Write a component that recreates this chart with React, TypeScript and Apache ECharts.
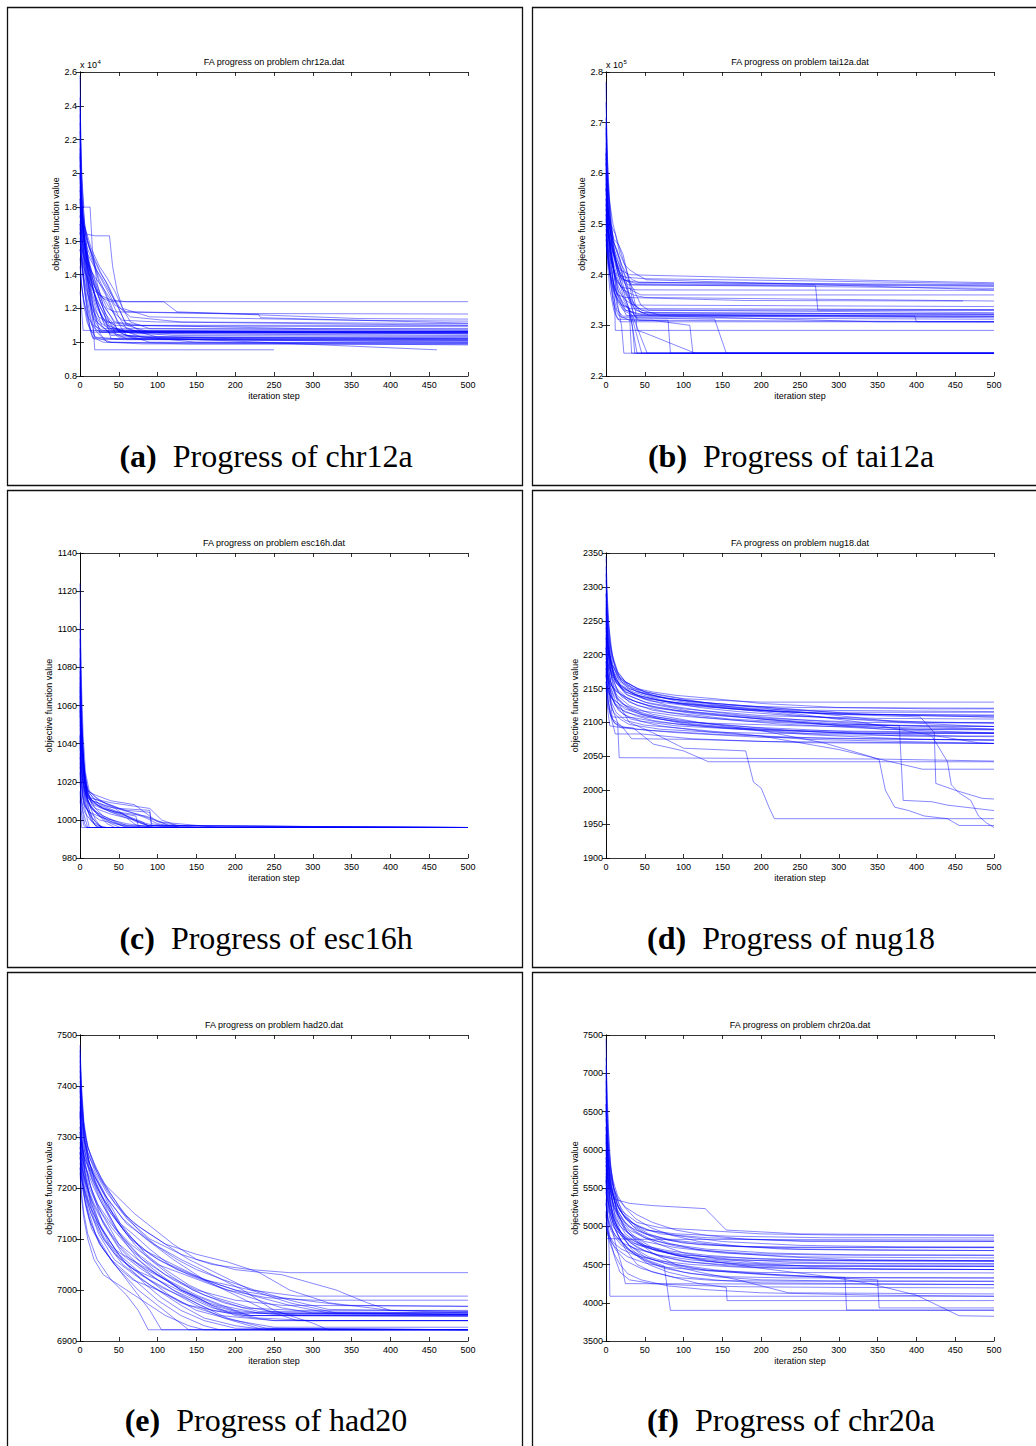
import React, { useEffect, useRef } from "react";
import * as echarts from "echarts";

// ---------------- DATA ----------------
const problems = ["chr12a", "tai12a", "esc16h", "nug18", "had20", "chr20a"];
const captionLetters = ["a", "b", "c", "d", "e", "f"];
const xMin = 0;
const xMax = 500;
const xInterval = 50;
const yMins = [0.8, 2.2, 980, 1900, 6900, 3500];
const yMaxs = [2.6, 2.8, 1140, 2350, 7500, 7500];
const yIntervals = [0.2, 0.1, 20, 50, 100, 500];
// power of ten shown above the y axis (0 = none); values of those panels are in axis units
const yExponents = [4, 5, 0, 0, 0, 0];

// every run: flat list x0,y0,x1,y1,... (iteration, objective value)
const chr12aRuns: number[][] = [
  [0, 2.58, 1, 2.2, 3, 1.9, 6, 1.7, 10, 1.5, 16, 1.35, 25, 1.28, 40, 1.25, 60, 1.24, 500, 1.24],
  [0, 2.45, 2, 2.0, 5, 1.8, 9, 1.8, 13, 1.8, 16, 1.55, 22, 1.35, 30, 1.22, 45, 1.12, 80, 1.1, 500, 1.1],
  [0, 2.3, 2, 1.95, 4, 1.7, 8, 1.5, 14, 1.3, 20, 1.12, 28, 1.06, 500, 1.06],
  [0, 2.2, 1, 1.9, 4, 1.65, 8, 1.45, 12, 1.28, 17, 1.1, 19, 0.955, 250, 0.955],
  [0, 2.1, 2, 1.8, 5, 1.6, 10, 1.4, 15, 1.2, 20, 1.07, 30, 1.02, 500, 1.02],
  [0, 2.0, 3, 1.7, 7, 1.55, 12, 1.4, 18, 1.3, 26, 1.18, 35, 1.1, 55, 1.065, 500, 1.065],
  [0, 1.95, 2, 1.75, 6, 1.6, 11, 1.45, 20, 1.25, 28, 1.15, 40, 1.08, 70, 1.05, 500, 1.05],
  [0, 1.9, 3, 1.7, 8, 1.55, 15, 1.42, 25, 1.3, 35, 1.2, 45, 1.18, 230, 1.165, 233, 1.145, 500, 1.113],
  [0, 1.85, 2, 1.6, 6, 1.4, 12, 1.25, 18, 1.14, 30, 1.08, 500, 1.08],
  [0, 1.8, 4, 1.65, 9, 1.52, 14, 1.38, 22, 1.22, 32, 1.1, 50, 1.03, 500, 1.03],
  [0, 1.75, 3, 1.6, 7, 1.48, 12, 1.35, 20, 1.3, 30, 1.26, 40, 1.24, 108, 1.24, 125, 1.18, 360, 1.14, 500, 1.137],
  [0, 1.7, 2, 1.5, 5, 1.35, 10, 1.2, 15, 1.1, 25, 1.06, 500, 1.06],
  [0, 1.65, 3, 1.5, 8, 1.38, 13, 1.25, 22, 1.12, 40, 1.05, 150, 1.0, 500, 0.996],
  [0, 1.6, 2, 1.45, 6, 1.3, 10, 1.15, 14, 1.07, 17, 1.02, 60, 1.015, 500, 1.012],
  [0, 1.55, 4, 1.4, 9, 1.3, 15, 1.2, 25, 1.12, 38, 1.08, 80, 1.065, 500, 1.063],
  [0, 1.5, 2, 1.35, 5, 1.22, 9, 1.12, 15, 1.06, 500, 1.058],
  [0, 1.4, 3, 1.3, 7, 1.2, 11, 1.1, 16, 1.03, 30, 1.0, 500, 0.984],
  [0, 1.3, 2, 1.2, 4, 1.07, 14, 1.07, 500, 1.05],
  [0, 2.05, 2, 1.85, 4, 1.7, 7, 1.55, 11, 1.45, 16, 1.38, 23, 1.3, 32, 1.25, 40, 1.19, 55, 1.13, 100, 1.12, 500, 1.1],
  [0, 1.98, 3, 1.8, 6, 1.68, 10, 1.6, 16, 1.5, 22, 1.42, 30, 1.35, 36, 1.3, 45, 1.22, 60, 1.18, 200, 1.17, 500, 1.167],
  [0, 2.25, 1, 1.9, 3, 1.72, 8, 1.64, 20, 1.63, 38, 1.63, 42, 1.45, 48, 1.3, 55, 1.2, 90, 1.15, 350, 1.13, 500, 1.125],
  [0, 1.88, 2, 1.66, 5, 1.5, 9, 1.38, 14, 1.3, 20, 1.2, 28, 1.1, 40, 1.04, 95, 1.03, 500, 1.025],
  [0, 1.72, 3, 1.55, 7, 1.42, 13, 1.3, 19, 1.18, 26, 1.05, 35, 1.0, 80, 0.99, 500, 0.99],
  [0, 2.15, 2, 1.85, 5, 1.62, 9, 1.48, 14, 1.36, 21, 1.24, 30, 1.12, 42, 1.07, 120, 1.05, 500, 1.04],
  [0, 1.78, 2, 1.62, 6, 1.5, 11, 1.33, 16, 1.22, 24, 1.15, 34, 1.12, 70, 1.1, 300, 1.08, 500, 1.077],
  [0, 1.62, 3, 1.45, 6, 1.3, 10, 1.18, 13, 1.08, 20, 1.03, 50, 1.02, 250, 1.01, 500, 1.005],
  [0, 1.45, 2, 1.34, 5, 1.24, 10, 1.15, 17, 1.1, 30, 1.07, 120, 1.04, 500, 1.035],
  [0, 2.35, 1, 2.0, 3, 1.78, 6, 1.58, 10, 1.43, 15, 1.3, 22, 1.2, 30, 1.14, 45, 1.1, 150, 1.095, 500, 1.092],
  [0, 1.92, 3, 1.76, 7, 1.6, 12, 1.46, 18, 1.34, 26, 1.24, 34, 1.16, 48, 1.08, 80, 1.03, 460, 0.955],
  [0, 1.68, 2, 1.52, 5, 1.38, 9, 1.26, 14, 1.14, 19, 1.03, 40, 1.0, 140, 0.99, 500, 0.99],
  [0, 2.0, 1, 1.8, 4, 1.58, 7, 1.42, 10, 1.28, 14, 1.18, 20, 1.1, 26, 1.06, 500, 1.06],
  [0, 1.83, 2, 1.7, 5, 1.56, 9, 1.45, 14, 1.35, 22, 1.25, 30, 1.17, 38, 1.1, 50, 1.07, 500, 1.065],
  [0, 2.12, 1, 1.88, 3, 1.7, 5, 1.6, 9, 1.5, 15, 1.4, 20, 1.32, 30, 1.2, 35, 1.1, 40, 1.02, 500, 1.02],
  [0, 1.9, 5, 1.7, 15, 1.55, 25, 1.45, 35, 1.38, 45, 1.3, 55, 1.2, 65, 1.12, 90, 1.08, 500, 1.07],
  [0, 1.75, 4, 1.62, 10, 1.52, 18, 1.45, 28, 1.38, 38, 1.3, 48, 1.22, 58, 1.12, 80, 1.06, 500, 1.06],
  [0, 1.6, 5, 1.5, 12, 1.44, 20, 1.38, 30, 1.32, 40, 1.25, 50, 1.15, 60, 1.08, 100, 1.03, 500, 1.02],
  [0, 2.0, 2, 1.8, 6, 1.65, 12, 1.56, 20, 1.48, 28, 1.4, 36, 1.34, 44, 1.26, 52, 1.2, 65, 1.15, 130, 1.12, 500, 1.11],
  [0, 1.7, 3, 1.6, 8, 1.52, 15, 1.42, 22, 1.32, 30, 1.22, 40, 1.15, 50, 1.06, 70, 1.02, 500, 1.01],
  [0, 1.85, 3, 1.72, 9, 1.6, 16, 1.5, 24, 1.38, 32, 1.3, 40, 1.22, 48, 1.12, 60, 1.04, 200, 1.02, 500, 1.015],
  [0, 1.55, 4, 1.45, 10, 1.38, 17, 1.3, 25, 1.22, 33, 1.15, 42, 1.1, 55, 1.05, 90, 1.0, 500, 0.996],
  [0, 2.4, 1, 2.1, 3, 1.85, 6, 1.7, 10, 1.6, 17, 1.5, 25, 1.42, 33, 1.36, 41, 1.28, 50, 1.2, 60, 1.1, 90, 1.06, 500, 1.06],
  [0, 1.8, 4, 1.66, 10, 1.55, 17, 1.47, 25, 1.35, 33, 1.28, 42, 1.18, 52, 1.1, 75, 1.06, 500, 1.05],
  [0, 1.65, 3, 1.55, 8, 1.46, 14, 1.38, 22, 1.3, 30, 1.2, 38, 1.12, 46, 1.05, 60, 1.02, 500, 1.0],
];

const tai12aRuns: number[][] = [
  [0, 2.78, 1, 2.68, 3, 2.58, 6, 2.5, 10, 2.44, 16, 2.4, 25, 2.395, 50, 2.392, 250, 2.388, 500, 2.382],
  [0, 2.74, 2, 2.62, 5, 2.54, 9, 2.47, 14, 2.42, 22, 2.39, 40, 2.385, 500, 2.378],
  [0, 2.71, 2, 2.6, 4, 2.52, 8, 2.45, 12, 2.38, 16, 2.33, 20, 2.3, 23, 2.245, 500, 2.245],
  [0, 2.68, 2, 2.58, 6, 2.5, 11, 2.44, 18, 2.4, 28, 2.38, 270, 2.378, 273, 2.33, 500, 2.33],
  [0, 2.66, 1, 2.55, 4, 2.48, 8, 2.41, 11, 2.35, 12, 2.29, 500, 2.29],
  [0, 2.64, 2, 2.55, 5, 2.47, 10, 2.41, 15, 2.37, 25, 2.35, 35, 2.34, 500, 2.337],
  [0, 2.62, 3, 2.53, 7, 2.46, 12, 2.42, 20, 2.38, 30, 2.33, 33, 2.245, 500, 2.245],
  [0, 2.6, 2, 2.51, 6, 2.45, 11, 2.4, 17, 2.36, 25, 2.33, 40, 2.322, 500, 2.322],
  [0, 2.58, 2, 2.5, 5, 2.44, 9, 2.39, 14, 2.34, 20, 2.315, 140, 2.312, 155, 2.245, 500, 2.245],
  [0, 2.57, 3, 2.49, 7, 2.43, 12, 2.39, 20, 2.375, 40, 2.37, 500, 2.369],
  [0, 2.55, 2, 2.47, 5, 2.41, 9, 2.36, 14, 2.33, 22, 2.318, 500, 2.318],
  [0, 2.54, 3, 2.47, 6, 2.42, 10, 2.38, 15, 2.36, 25, 2.355, 180, 2.349, 460, 2.348],
  [0, 2.52, 2, 2.45, 5, 2.4, 9, 2.35, 13, 2.32, 18, 2.307, 500, 2.307],
  [0, 2.5, 2, 2.44, 6, 2.38, 10, 2.34, 16, 2.32, 30, 2.31, 80, 2.31, 83, 2.245, 500, 2.245],
  [0, 2.49, 3, 2.43, 7, 2.39, 12, 2.36, 20, 2.34, 30, 2.333, 500, 2.331],
  [0, 2.48, 2, 2.42, 5, 2.37, 10, 2.33, 15, 2.312, 60, 2.31, 108, 2.3, 112, 2.245, 500, 2.245],
  [0, 2.46, 4, 2.41, 9, 2.37, 15, 2.35, 25, 2.33, 45, 2.322, 398, 2.318, 400, 2.307, 500, 2.307],
  [0, 2.7, 1, 2.6, 3, 2.52, 7, 2.47, 12, 2.43, 18, 2.41, 30, 2.4, 50, 2.399, 300, 2.39, 500, 2.384],
  [0, 2.63, 2, 2.54, 5, 2.49, 10, 2.44, 16, 2.41, 24, 2.39, 35, 2.38, 500, 2.373],
  [0, 2.59, 3, 2.52, 7, 2.46, 13, 2.42, 20, 2.39, 32, 2.37, 45, 2.36, 500, 2.36],
  [0, 2.56, 2, 2.49, 6, 2.44, 11, 2.4, 18, 2.38, 26, 2.36, 38, 2.33, 40, 2.29, 50, 2.285, 115, 2.245, 500, 2.245],
  [0, 2.53, 3, 2.46, 8, 2.42, 14, 2.39, 22, 2.37, 35, 2.36, 50, 2.355, 500, 2.348],
  [0, 2.51, 2, 2.45, 6, 2.4, 12, 2.37, 20, 2.35, 30, 2.33, 38, 2.32, 350, 2.307, 500, 2.307],
  [0, 2.47, 3, 2.42, 8, 2.38, 14, 2.35, 22, 2.33, 34, 2.32, 53, 2.245, 500, 2.245],
  [0, 2.61, 1, 2.53, 4, 2.47, 8, 2.43, 14, 2.4, 22, 2.39, 40, 2.382, 500, 2.377],
  [0, 2.69, 2, 2.59, 5, 2.52, 9, 2.46, 14, 2.41, 20, 2.38, 28, 2.36, 36, 2.34, 46, 2.33, 500, 2.325],
  [0, 2.57, 2, 2.5, 5, 2.45, 10, 2.41, 15, 2.38, 23, 2.35, 30, 2.33, 40, 2.245, 500, 2.245],
  [0, 2.52, 2, 2.46, 6, 2.41, 12, 2.37, 20, 2.34, 26, 2.32, 30, 2.319, 500, 2.315],
  [0, 2.65, 1, 2.56, 3, 2.5, 6, 2.45, 10, 2.4, 15, 2.36, 22, 2.34, 30, 2.335, 46, 2.245, 500, 2.245],
  [0, 2.62, 4, 2.55, 9, 2.5, 14, 2.47, 20, 2.44, 26, 2.41, 32, 2.38, 38, 2.34, 45, 2.325, 500, 2.322],
  [0, 2.55, 3, 2.5, 8, 2.47, 13, 2.45, 18, 2.43, 24, 2.4, 30, 2.36, 36, 2.32, 40, 2.315, 500, 2.312],
  [0, 2.6, 2, 2.53, 6, 2.5, 12, 2.48, 18, 2.44, 24, 2.42, 30, 2.41, 40, 2.4, 52, 2.39, 500, 2.37],
  [0, 2.57, 4, 2.51, 10, 2.47, 16, 2.46, 22, 2.44, 28, 2.4, 34, 2.35, 40, 2.33, 55, 2.32, 500, 2.318],
  [0, 2.53, 3, 2.48, 8, 2.45, 14, 2.43, 20, 2.41, 28, 2.39, 36, 2.37, 45, 2.34, 55, 2.33, 500, 2.33],
  [0, 2.5, 5, 2.46, 12, 2.43, 18, 2.4, 24, 2.37, 30, 2.35, 36, 2.32, 42, 2.31, 500, 2.307],
  [0, 2.64, 2, 2.56, 6, 2.5, 11, 2.46, 17, 2.43, 23, 2.39, 30, 2.36, 37, 2.34, 46, 2.33, 70, 2.32, 500, 2.318],
  [0, 2.48, 4, 2.44, 10, 2.41, 16, 2.39, 22, 2.36, 28, 2.34, 34, 2.3, 37, 2.245, 500, 2.245],
  [0, 2.58, 3, 2.51, 8, 2.47, 14, 2.45, 20, 2.42, 27, 2.4, 34, 2.39, 42, 2.385, 500, 2.38],
  [0, 2.54, 2, 2.49, 7, 2.46, 13, 2.44, 19, 2.41, 25, 2.38, 31, 2.35, 38, 2.33, 48, 2.325, 500, 2.322],
];

const esc16hRuns: number[][] = [
  [0, 1124, 1, 1090, 2, 1060, 4, 1035, 6, 1020, 10, 1010, 20, 1004, 35, 998, 45, 996, 500, 996],
  [0, 1103, 2, 1070, 4, 1045, 7, 1025, 12, 1015, 25, 1010, 50, 1006, 90, 1005, 92, 997, 120, 996, 500, 996],
  [0, 1082, 1, 1060, 3, 1040, 6, 1025, 10, 1015, 20, 1013, 40, 1010, 70, 1008, 100, 999, 180, 996, 500, 996],
  [0, 1075, 2, 1050, 5, 1030, 8, 1018, 15, 1008, 30, 1002, 60, 997, 90, 996, 500, 996],
  [0, 1065, 1, 1045, 3, 1030, 6, 1016, 12, 1008, 20, 1000, 28, 996, 500, 996],
  [0, 1058, 2, 1040, 5, 1022, 10, 1012, 20, 1006, 40, 1003, 70, 1000, 95, 997, 130, 996, 500, 996],
  [0, 1050, 3, 1035, 6, 1020, 11, 1012, 22, 1008, 45, 1004, 72, 1002, 75, 997, 100, 996, 500, 996],
  [0, 1045, 1, 1030, 3, 1018, 7, 1008, 14, 1000, 22, 996, 500, 996],
  [0, 1040, 2, 1028, 4, 1016, 8, 1010, 18, 1005, 35, 1000, 55, 997, 80, 996, 500, 996],
  [0, 1035, 1, 1020, 4, 1010, 8, 1003, 12, 996, 500, 996],
  [0, 1030, 2, 1018, 5, 1008, 12, 1004, 30, 1001, 60, 998, 95, 996, 500, 996],
  [0, 1025, 1, 1012, 3, 1005, 6, 998, 9, 996, 500, 996],
  [0, 1020, 2, 1010, 6, 1004, 15, 999, 30, 996, 500, 996],
  [0, 1015, 1, 1005, 2, 996, 500, 996],
  [0, 1010, 2, 1003, 5, 997, 8, 996, 500, 996],
  [0, 1095, 1, 1070, 3, 1045, 5, 1028, 9, 1016, 18, 1011, 40, 1009, 90, 1006, 105, 1000, 125, 997, 500, 996],
  [0, 1070, 1, 1048, 4, 1032, 7, 1020, 12, 1014, 25, 1008, 50, 1004, 85, 1002, 110, 998, 150, 996, 500, 996],
  [0, 1055, 2, 1036, 5, 1024, 9, 1014, 16, 1009, 30, 1006, 55, 1003, 80, 999, 90, 996, 500, 996],
  [0, 1048, 1, 1032, 3, 1022, 7, 1013, 14, 1006, 26, 1002, 40, 999, 60, 996, 500, 996],
  [0, 1038, 2, 1025, 6, 1015, 10, 1007, 16, 1001, 24, 997, 35, 996, 500, 996],
  [0, 1100, 1, 1075, 2, 1050, 4, 1030, 7, 1015, 12, 1005, 18, 998, 24, 996, 500, 996],
  [0, 1062, 1, 1040, 3, 1025, 6, 1012, 10, 1005, 15, 1000, 20, 997, 30, 996, 500, 996],
  [0, 1028, 1, 1015, 3, 1006, 7, 1000, 10, 996, 500, 996],
  [0, 1085, 2, 1055, 4, 1036, 6, 1022, 9, 1014, 16, 1010, 35, 1007, 60, 1005, 90, 1004, 92, 998, 110, 997, 140, 996, 500, 996],
  [0, 1068, 1, 1050, 2, 1035, 5, 1022, 9, 1012, 15, 1006, 25, 1002, 40, 998, 52, 996, 500, 996],
  [0, 1042, 1, 1025, 3, 1014, 6, 1008, 12, 1003, 20, 999, 28, 996, 500, 996],
  [0, 1060, 3, 1040, 6, 1025, 10, 1016, 20, 1012, 35, 1008, 55, 1005, 75, 1003, 95, 1000, 115, 997, 500, 996],
  [0, 1052, 2, 1030, 5, 1018, 10, 1012, 25, 1010, 45, 1007, 65, 1004, 85, 1001, 100, 998, 130, 996, 500, 996],
  [0, 1044, 2, 1026, 5, 1016, 9, 1012, 18, 1009, 30, 1006, 50, 1004, 70, 1000, 88, 997, 500, 996],
  [0, 1078, 1, 1055, 3, 1035, 6, 1020, 10, 1014, 16, 1010, 30, 1008, 45, 1006, 60, 1002, 80, 998, 95, 996, 500, 996],
  [0, 1033, 2, 1020, 4, 1012, 8, 1006, 15, 1003, 25, 1000, 45, 998, 65, 996, 500, 996],
  [0, 1090, 1, 1060, 3, 1038, 5, 1024, 8, 1016, 14, 1011, 25, 1007, 40, 1004, 60, 1001, 70, 998, 78, 996, 500, 996],
  [0, 1057, 2, 1035, 4, 1022, 8, 1012, 14, 1007, 22, 1004, 35, 1001, 50, 998, 65, 997, 500, 996],
  [0, 1072, 1, 1052, 3, 1036, 6, 1022, 10, 1012, 17, 1008, 28, 1006, 42, 1004, 58, 1002, 72, 999, 90, 997, 500, 996],
];

const nug18Runs: number[][] = [
  [0, 2345, 2, 2280, 4, 2240, 8, 2200, 15, 2175, 25, 2160, 50, 2145, 100, 2135, 200, 2130, 500, 2130],
  [0, 2330, 2, 2260, 5, 2220, 10, 2190, 18, 2165, 35, 2150, 70, 2140, 150, 2125, 250, 2122, 500, 2121],
  [0, 2310, 3, 2250, 6, 2210, 12, 2180, 20, 2160, 40, 2145, 80, 2135, 140, 2128, 260, 2118, 500, 2116],
  [0, 2290, 2, 2230, 5, 2195, 10, 2170, 20, 2150, 45, 2138, 90, 2128, 180, 2118, 300, 2112, 500, 2111],
  [0, 2275, 2, 2220, 6, 2185, 12, 2160, 25, 2142, 50, 2130, 100, 2120, 200, 2110, 350, 2106, 500, 2105],
  [0, 2260, 3, 2210, 7, 2180, 14, 2158, 28, 2140, 55, 2128, 110, 2116, 210, 2106, 330, 2100, 500, 2099],
  [0, 2250, 2, 2205, 5, 2175, 10, 2155, 20, 2138, 40, 2125, 80, 2115, 160, 2105, 280, 2098, 420, 2095, 500, 2094],
  [0, 2240, 3, 2195, 8, 2165, 16, 2145, 30, 2130, 60, 2118, 120, 2108, 220, 2098, 360, 2090, 500, 2089],
  [0, 2230, 2, 2185, 6, 2160, 12, 2140, 24, 2125, 48, 2112, 95, 2102, 190, 2093, 320, 2086, 500, 2084],
  [0, 2220, 3, 2180, 7, 2155, 15, 2135, 30, 2120, 65, 2108, 130, 2098, 240, 2088, 380, 2080, 500, 2079],
  [0, 2210, 2, 2170, 5, 2140, 8, 2108, 35, 2107, 70, 2100, 150, 2092, 260, 2082, 400, 2075, 500, 2074],
  [0, 2200, 3, 2160, 8, 2135, 16, 2118, 32, 2105, 70, 2095, 140, 2085, 260, 2075, 500, 2069],
  [0, 2190, 3, 2150, 8, 2120, 15, 2100, 17, 2048, 350, 2046, 500, 2043],
  [0, 2180, 2, 2140, 6, 2110, 12, 2083, 46, 2083, 110, 2076, 200, 2072, 500, 2069],
  [0, 2170, 3, 2130, 8, 2105, 20, 2095, 33, 2076, 110, 2075, 260, 2070, 500, 2069],
  [0, 2160, 2, 2120, 5, 2095, 16, 2093, 35, 2092, 61, 2068, 100, 2058, 132, 2042, 500, 2042],
  [0, 2255, 3, 2200, 8, 2160, 15, 2130, 30, 2100, 60, 2085, 100, 2062, 180, 2058, 190, 2012, 200, 2003, 210, 1975, 217, 1958, 500, 1958],
  [0, 2235, 2, 2190, 6, 2160, 14, 2140, 30, 2125, 60, 2112, 120, 2100, 200, 2088, 280, 2070, 340, 2050, 352, 2045, 360, 2000, 372, 1975, 390, 1970, 410, 1962, 440, 1958, 455, 1948, 500, 1948],
  [0, 2245, 3, 2200, 7, 2170, 14, 2150, 28, 2135, 60, 2122, 120, 2112, 220, 2104, 300, 2098, 378, 2095, 383, 1985, 420, 1983, 440, 1978, 470, 1974, 500, 1970],
  [0, 2265, 2, 2215, 6, 2180, 12, 2160, 25, 2145, 55, 2132, 110, 2124, 200, 2118, 300, 2112, 405, 2108, 423, 2085, 425, 2010, 450, 2000, 470, 1993, 485, 1988, 500, 1987],
  [0, 2215, 2, 2175, 6, 2150, 12, 2132, 24, 2120, 50, 2110, 100, 2098, 180, 2090, 280, 2082, 420, 2080, 440, 2042, 445, 2008, 455, 1996, 470, 1985, 480, 1962, 490, 1952, 500, 1945],
  [0, 2195, 3, 2155, 7, 2130, 13, 2115, 25, 2103, 50, 2096, 110, 2090, 200, 2080, 300, 2060, 408, 2031, 500, 2031],
  [0, 2300, 2, 2240, 5, 2200, 9, 2175, 18, 2155, 35, 2142, 70, 2132, 150, 2122, 250, 2110, 350, 2102, 450, 2100, 500, 2099],
  [0, 2185, 2, 2150, 5, 2130, 10, 2115, 18, 2105, 30, 2097, 70, 2090, 130, 2086, 200, 2084, 500, 2084],
  [0, 2225, 2, 2180, 5, 2150, 11, 2128, 22, 2112, 45, 2102, 90, 2095, 170, 2090, 300, 2085, 460, 2080, 500, 2080],
  [0, 2280, 3, 2225, 7, 2185, 13, 2160, 25, 2145, 50, 2135, 100, 2128, 200, 2120, 300, 2115, 500, 2115],
  [0, 2205, 2, 2165, 6, 2142, 12, 2125, 25, 2115, 50, 2108, 100, 2100, 250, 2095, 500, 2090],
  [0, 2175, 2, 2135, 5, 2115, 10, 2100, 20, 2094, 40, 2090, 90, 2085, 200, 2078, 500, 2074],
  [0, 2150, 2, 2125, 6, 2110, 12, 2098, 20, 2092, 60, 2088, 150, 2082, 300, 2076, 500, 2074],
  [0, 2320, 2, 2250, 5, 2210, 9, 2185, 16, 2165, 30, 2150, 60, 2138, 120, 2130, 230, 2120, 330, 2112, 500, 2108],
  [0, 2270, 2, 2222, 6, 2190, 11, 2170, 20, 2152, 40, 2140, 80, 2130, 160, 2120, 260, 2114, 400, 2110, 500, 2108],
  [0, 2212, 2, 2178, 5, 2156, 10, 2140, 20, 2128, 40, 2118, 90, 2110, 180, 2102, 300, 2096, 500, 2094],
  [0, 2240, 3, 2205, 8, 2185, 15, 2170, 25, 2160, 40, 2150, 60, 2140, 90, 2132, 130, 2125, 180, 2120, 250, 2115, 350, 2112, 500, 2110],
  [0, 2200, 4, 2180, 10, 2165, 20, 2155, 35, 2145, 55, 2138, 85, 2130, 120, 2122, 170, 2116, 240, 2110, 320, 2105, 420, 2100, 500, 2100],
  [0, 2180, 3, 2160, 10, 2150, 20, 2140, 35, 2132, 55, 2125, 90, 2118, 140, 2112, 200, 2105, 300, 2096, 400, 2090, 500, 2090],
  [0, 2225, 4, 2195, 10, 2175, 18, 2160, 30, 2150, 50, 2142, 80, 2135, 120, 2130, 170, 2125, 230, 2118, 300, 2110, 380, 2100, 470, 2095, 500, 2094],
  [0, 2160, 3, 2145, 8, 2135, 16, 2128, 28, 2120, 45, 2112, 70, 2105, 110, 2098, 160, 2093, 230, 2088, 330, 2084, 500, 2084],
  [0, 2250, 3, 2210, 8, 2185, 15, 2168, 28, 2155, 45, 2145, 70, 2138, 110, 2130, 170, 2122, 250, 2112, 330, 2100, 400, 2085, 480, 2070, 500, 2069],
  [0, 2190, 2, 2170, 7, 2155, 14, 2145, 25, 2138, 40, 2130, 65, 2122, 100, 2116, 150, 2110, 210, 2104, 280, 2097, 360, 2090, 500, 2084],
  [0, 2210, 3, 2185, 9, 2168, 18, 2155, 32, 2145, 50, 2135, 80, 2125, 120, 2118, 180, 2110, 260, 2103, 360, 2096, 460, 2092, 500, 2090],
  [0, 2170, 2, 2150, 6, 2138, 12, 2128, 22, 2118, 38, 2110, 60, 2103, 95, 2097, 150, 2092, 250, 2088, 500, 2085],
  [0, 2290, 3, 2230, 8, 2195, 14, 2175, 25, 2160, 40, 2150, 60, 2145, 90, 2140, 140, 2135, 200, 2128, 300, 2122, 420, 2120, 500, 2120],
];

const had20Runs: number[][] = [
  [0, 7480, 2, 7400, 5, 7330, 10, 7280, 20, 7240, 35, 7200, 60, 7140, 90, 7100, 130, 7070, 170, 7050, 220, 7040, 270, 7034, 500, 7034],
  [0, 7450, 2, 7370, 5, 7310, 10, 7260, 18, 7220, 30, 7180, 50, 7130, 80, 7080, 120, 7050, 160, 7020, 220, 7000, 280, 6988, 500, 6988],
  [0, 7420, 3, 7340, 6, 7290, 12, 7240, 22, 7200, 40, 7150, 65, 7100, 100, 7060, 140, 7030, 190, 7000, 240, 6985, 300, 6980, 500, 6980],
  [0, 7400, 2, 7320, 6, 7270, 12, 7230, 25, 7180, 45, 7120, 75, 7070, 110, 7030, 150, 7000, 200, 6980, 260, 6970, 500, 6968],
  [0, 7380, 3, 7310, 8, 7260, 15, 7220, 30, 7170, 50, 7110, 80, 7060, 120, 7020, 160, 6990, 210, 6965, 280, 6960, 500, 6960],
  [0, 7360, 2, 7300, 6, 7250, 14, 7200, 28, 7150, 50, 7090, 90, 7040, 130, 7000, 180, 6970, 230, 6955, 500, 6955],
  [0, 7340, 3, 7280, 8, 7240, 16, 7190, 30, 7130, 55, 7070, 100, 7030, 150, 6990, 200, 6960, 250, 6952, 500, 6952],
  [0, 7320, 2, 7270, 6, 7230, 12, 7190, 25, 7130, 45, 7080, 80, 7040, 120, 7000, 170, 6965, 220, 6950, 500, 6949],
  [0, 7300, 3, 7250, 7, 7210, 15, 7160, 30, 7100, 55, 7050, 90, 7010, 130, 6975, 180, 6950, 250, 6940, 500, 6940],
  [0, 7290, 2, 7240, 5, 7200, 10, 7160, 20, 7110, 40, 7060, 70, 7020, 100, 6980, 130, 6950, 160, 6930, 180, 6922, 500, 6922],
  [0, 7270, 2, 7220, 6, 7180, 12, 7140, 25, 7090, 45, 7050, 70, 7000, 90, 6960, 105, 6922, 500, 6922],
  [0, 7250, 3, 7200, 8, 7160, 15, 7120, 30, 7080, 50, 7040, 75, 7000, 100, 6970, 125, 6940, 140, 6922, 500, 6922],
  [0, 7240, 2, 7190, 5, 7150, 10, 7110, 22, 7060, 40, 7020, 60, 6990, 75, 6960, 88, 6922, 500, 6922],
  [0, 7470, 2, 7380, 5, 7320, 10, 7270, 20, 7230, 35, 7190, 55, 7150, 80, 7120, 110, 7090, 150, 7070, 190, 7055, 230, 7035, 270, 7000, 320, 6975, 400, 6960, 500, 6955],
  [0, 7430, 3, 7350, 7, 7300, 14, 7260, 25, 7220, 45, 7170, 70, 7130, 100, 7100, 140, 7060, 180, 7030, 220, 7000, 270, 6975, 330, 6955, 500, 6952],
  [0, 7410, 2, 7340, 6, 7290, 12, 7250, 20, 7220, 35, 7180, 60, 7130, 95, 7090, 130, 7060, 170, 7030, 210, 7000, 250, 6960, 300, 6935, 320, 6922, 500, 6922],
  [0, 7390, 3, 7320, 8, 7270, 16, 7230, 30, 7190, 55, 7140, 85, 7100, 120, 7060, 160, 7020, 200, 6990, 240, 6960, 280, 6940, 500, 6940],
  [0, 7350, 2, 7290, 6, 7240, 12, 7200, 24, 7160, 42, 7120, 65, 7080, 95, 7040, 130, 7000, 170, 6970, 220, 6950, 500, 6950],
  [0, 7330, 3, 7270, 7, 7220, 14, 7170, 28, 7120, 50, 7070, 80, 7030, 115, 6990, 150, 6960, 200, 6940, 250, 6927, 500, 6927],
  [0, 7310, 2, 7250, 6, 7200, 12, 7160, 24, 7110, 44, 7060, 70, 7030, 100, 7000, 130, 6970, 160, 6945, 200, 6930, 240, 6922, 500, 6922],
  [0, 7280, 2, 7230, 6, 7190, 14, 7150, 26, 7110, 45, 7070, 70, 7040, 100, 7020, 140, 6990, 180, 6960, 230, 6945, 300, 6940, 500, 6940],
  [0, 7260, 3, 7210, 7, 7170, 14, 7130, 26, 7090, 44, 7050, 68, 7020, 100, 7000, 140, 6970, 190, 6955, 500, 6952],
  [0, 7230, 2, 7180, 5, 7140, 10, 7100, 18, 7060, 30, 7030, 50, 7010, 80, 6980, 110, 6950, 140, 6930, 160, 6922, 500, 6922],
  [0, 7440, 2, 7360, 6, 7300, 12, 7250, 20, 7210, 35, 7160, 60, 7110, 90, 7070, 125, 7040, 160, 7020, 200, 7000, 260, 6985, 340, 6970, 500, 6968],
  [0, 7370, 2, 7300, 6, 7250, 12, 7210, 22, 7170, 40, 7130, 65, 7090, 100, 7050, 135, 7030, 170, 7010, 210, 6990, 260, 6965, 300, 6955, 500, 6955],
  [0, 7460, 2, 7390, 5, 7320, 10, 7280, 18, 7250, 30, 7210, 50, 7180, 70, 7150, 95, 7120, 120, 7090, 150, 7060, 200, 7040, 260, 7030, 330, 7000, 370, 6975, 400, 6960, 500, 6958],
  [0, 7310, 2, 7260, 5, 7220, 10, 7180, 18, 7140, 32, 7100, 52, 7060, 78, 7030, 105, 7005, 135, 6985, 170, 6960, 210, 6950, 500, 6948],
  [0, 7345, 2, 7285, 6, 7235, 12, 7185, 22, 7135, 38, 7090, 60, 7050, 90, 7020, 120, 6995, 150, 6970, 185, 6945, 230, 6925, 500, 6922],
  [0, 7300, 5, 7260, 12, 7240, 20, 7220, 30, 7190, 42, 7150, 55, 7120, 70, 7090, 90, 7060, 115, 7030, 145, 7000, 185, 6975, 230, 6958, 500, 6955],
  [0, 7280, 4, 7250, 10, 7230, 18, 7200, 28, 7170, 40, 7140, 55, 7100, 75, 7060, 100, 7030, 130, 7000, 165, 6975, 210, 6955, 500, 6952],
  [0, 7350, 3, 7290, 8, 7260, 15, 7240, 25, 7210, 38, 7170, 52, 7130, 68, 7100, 85, 7070, 110, 7040, 140, 7010, 175, 6985, 220, 6965, 280, 6950, 500, 6950],
  [0, 7260, 4, 7230, 10, 7200, 18, 7170, 28, 7140, 40, 7110, 55, 7080, 75, 7050, 100, 7020, 125, 6995, 155, 6970, 190, 6945, 240, 6925, 500, 6922],
  [0, 7320, 3, 7280, 8, 7250, 16, 7220, 26, 7190, 38, 7160, 52, 7130, 68, 7110, 90, 7080, 115, 7050, 145, 7030, 180, 7010, 220, 6990, 270, 6970, 320, 6955, 500, 6952],
  [0, 7240, 3, 7210, 8, 7185, 14, 7160, 24, 7130, 36, 7100, 50, 7070, 66, 7040, 85, 7010, 105, 6985, 130, 6960, 160, 6940, 200, 6925, 500, 6922],
  [0, 7400, 2, 7340, 6, 7290, 12, 7260, 22, 7230, 34, 7200, 48, 7170, 62, 7140, 80, 7110, 100, 7085, 125, 7060, 150, 7040, 185, 7020, 225, 7000, 270, 6980, 320, 6962, 500, 6958],
  [0, 7270, 3, 7235, 8, 7205, 15, 7175, 25, 7145, 37, 7115, 50, 7085, 65, 7060, 85, 7040, 110, 7020, 140, 6995, 170, 6970, 200, 6950, 250, 6940, 500, 6940],
];

const chr20aRuns: number[][] = [
  [0, 7450, 1, 6900, 3, 6300, 6, 5800, 10, 5500, 20, 5200, 40, 5050, 70, 4980, 120, 4950, 200, 4900, 300, 4885, 500, 4883],
  [0, 7200, 2, 6500, 4, 6000, 8, 5600, 14, 5300, 25, 5100, 50, 4950, 90, 4900, 160, 4870, 280, 4850, 500, 4848],
  [0, 6900, 1, 6400, 3, 5900, 7, 5500, 12, 5300, 22, 5150, 40, 5000, 70, 4900, 130, 4850, 250, 4810, 500, 4804],
  [0, 6500, 2, 6000, 5, 5600, 10, 5400, 18, 5200, 32, 5050, 55, 4950, 90, 4880, 150, 4800, 250, 4750, 380, 4730, 500, 4726],
  [0, 6300, 2, 5800, 5, 5500, 9, 5300, 16, 5150, 28, 5000, 50, 4900, 85, 4820, 140, 4760, 230, 4700, 350, 4685, 500, 4682],
  [0, 6000, 2, 5700, 5, 5450, 10, 5250, 18, 5100, 30, 4950, 50, 4850, 80, 4770, 130, 4700, 210, 4650, 320, 4625, 500, 4621],
  [0, 5800, 2, 5500, 5, 5300, 10, 5150, 18, 5000, 30, 4900, 50, 4800, 90, 4720, 150, 4650, 250, 4600, 400, 4590, 500, 4586],
  [0, 5600, 1, 5400, 4, 5200, 9, 5050, 16, 4950, 28, 4850, 48, 4750, 80, 4680, 130, 4620, 200, 4570, 320, 4550, 500, 4543],
  [0, 5450, 2, 5250, 5, 5100, 10, 4980, 20, 4880, 35, 4780, 60, 4700, 100, 4630, 160, 4570, 240, 4530, 360, 4510, 500, 4508],
  [0, 5300, 2, 5100, 6, 4980, 12, 4880, 22, 4780, 40, 4700, 70, 4620, 110, 4560, 170, 4510, 260, 4480, 500, 4477],
  [0, 5200, 1, 5000, 4, 4880, 10, 4780, 20, 4700, 38, 4620, 65, 4550, 110, 4500, 180, 4460, 300, 4440, 500, 4434],
  [0, 5000, 2, 4900, 6, 4800, 14, 4700, 28, 4600, 50, 4520, 80, 4460, 130, 4420, 200, 4395, 500, 4390],
  [0, 6800, 2, 6200, 4, 5800, 8, 5500, 14, 5200, 24, 4950, 40, 4800, 60, 4650, 90, 4500, 130, 4420, 190, 4380, 280, 4340, 308, 4330, 310, 3905, 500, 3905],
  [0, 6600, 1, 6100, 3, 5700, 7, 5400, 12, 5100, 20, 4900, 33, 4700, 50, 4550, 75, 4450, 110, 4380, 160, 4340, 230, 4325, 500, 4324],
  [0, 6200, 2, 5700, 5, 5350, 9, 5100, 15, 4900, 25, 4700, 40, 4500, 60, 4400, 90, 4330, 140, 4290, 240, 4282, 500, 4281],
  [0, 5900, 2, 5500, 4, 5200, 8, 4950, 14, 4700, 20, 4500, 25, 4250, 500, 4237],
  [0, 5700, 1, 5300, 3, 5000, 6, 4800, 11, 4600, 18, 4400, 30, 4300, 60, 4250, 100, 4230, 170, 4210, 300, 4200, 500, 4194],
  [0, 5500, 2, 5100, 4, 4700, 5, 4085, 500, 4085],
  [0, 5350, 2, 5100, 6, 4950, 12, 4850, 20, 4750, 35, 4650, 55, 4550, 75, 4480, 83, 3900, 500, 3900],
  [0, 6100, 2, 5650, 5, 5350, 10, 5100, 18, 4900, 30, 4750, 55, 4600, 90, 4500, 140, 4430, 200, 4380, 280, 4330, 350, 4300, 352, 3932, 500, 3932],
  [0, 5150, 2, 4950, 5, 4850, 12, 4700, 25, 4550, 45, 4450, 80, 4350, 120, 4250, 155, 4200, 156, 4028, 500, 4028],
  [0, 6400, 2, 5900, 5, 5500, 10, 5250, 18, 5050, 30, 4900, 50, 4750, 80, 4650, 130, 4550, 200, 4450, 280, 4350, 340, 4250, 400, 4100, 455, 3830, 500, 3823],
  [0, 4840, 30, 4830, 500, 4820],
  [0, 5750, 2, 5450, 5, 5250, 10, 5050, 18, 4900, 30, 4750, 50, 4600, 80, 4500, 120, 4400, 170, 4300, 235, 4130, 500, 4115],
  [0, 6700, 1, 6200, 3, 5800, 6, 5550, 10, 5350, 16, 5150, 26, 4950, 40, 4800, 60, 4700, 90, 4620, 130, 4560, 180, 4520, 260, 4480, 500, 4477],
  [0, 5950, 2, 5600, 5, 5400, 10, 5200, 16, 5050, 25, 4900, 40, 4780, 65, 4680, 100, 4600, 150, 4560, 220, 4550, 500, 4543],
  [0, 5600, 2, 5350, 6, 5150, 12, 4950, 20, 4800, 35, 4650, 55, 4500, 80, 4400, 110, 4330, 150, 4290, 200, 4260, 500, 4237],
  [0, 6300, 2, 5900, 6, 5500, 12, 5350, 30, 5300, 60, 5270, 128, 5230, 155, 4950, 250, 4900, 500, 4883],
  [0, 7000, 1, 6500, 3, 6000, 6, 5700, 10, 5450, 16, 5250, 25, 5100, 40, 4950, 65, 4850, 100, 4780, 160, 4740, 250, 4720, 500, 4720],
  [0, 5050, 2, 4900, 5, 4780, 10, 4650, 18, 4500, 28, 4380, 45, 4300, 80, 4220, 130, 4170, 200, 4130, 350, 4100, 500, 4085],
  [0, 5850, 2, 5550, 5, 5300, 9, 5120, 15, 4980, 25, 4860, 40, 4760, 65, 4680, 100, 4620, 160, 4590, 260, 4560, 500, 4550],
  [0, 6150, 1, 5800, 4, 5450, 8, 5200, 14, 5000, 24, 4850, 40, 4720, 65, 4620, 100, 4540, 150, 4500, 220, 4470, 360, 4440, 500, 4434],
  [0, 6200, 2, 5900, 5, 5700, 10, 5500, 16, 5350, 25, 5250, 40, 5150, 60, 5050, 90, 4950, 130, 4880, 180, 4830, 260, 4800, 500, 4800],
  [0, 5800, 3, 5600, 7, 5450, 13, 5300, 22, 5150, 35, 5000, 55, 4880, 80, 4780, 115, 4700, 160, 4650, 230, 4600, 330, 4560, 500, 4550],
  [0, 6600, 2, 6100, 5, 5800, 9, 5600, 15, 5400, 24, 5250, 38, 5100, 58, 4980, 85, 4880, 120, 4800, 170, 4740, 250, 4700, 500, 4682],
  [0, 5500, 2, 5350, 6, 5200, 12, 5050, 20, 4900, 32, 4780, 50, 4680, 75, 4600, 110, 4530, 160, 4480, 230, 4450, 350, 4440, 500, 4434],
  [0, 6000, 3, 5700, 7, 5450, 13, 5250, 22, 5080, 34, 4950, 50, 4850, 72, 4750, 100, 4650, 140, 4580, 200, 4520, 300, 4510, 500, 4508],
  [0, 5300, 2, 5150, 6, 5000, 12, 4880, 20, 4780, 32, 4680, 50, 4600, 75, 4520, 110, 4450, 160, 4400, 230, 4350, 320, 4330, 500, 4324],
  [0, 6500, 2, 6000, 5, 5650, 9, 5400, 15, 5200, 25, 5050, 40, 4920, 60, 4820, 90, 4740, 130, 4680, 190, 4640, 280, 4625, 500, 4621],
  [0, 5650, 2, 5400, 5, 5200, 10, 5000, 17, 4850, 28, 4700, 45, 4580, 70, 4480, 100, 4400, 140, 4340, 200, 4300, 290, 4285, 500, 4281],
  [0, 7100, 1, 6600, 3, 6100, 6, 5750, 10, 5500, 16, 5300, 25, 5150, 38, 5000, 55, 4900, 80, 4820, 120, 4760, 180, 4730, 280, 4726, 500, 4726],
  [0, 5900, 3, 5600, 8, 5350, 15, 5150, 25, 4980, 40, 4840, 60, 4720, 90, 4620, 130, 4540, 190, 4490, 280, 4480, 500, 4477],
];

const runsByPanel = [chr12aRuns, tai12aRuns, esc16hRuns, nug18Runs, had20Runs, chr20aRuns];

// ---------------- LAYOUT ----------------
const W = 1036;
const H = 1446;
const SANS = '"Liberation Sans", Arial, Helvetica, sans-serif';
const SERIF = '"Liberation Serif", "Times New Roman", serif';
const gridLefts = [80, 606];
const gridTops = [72, 553, 1035];
const gridW = 388;
const gridHs = [304, 305, 306];
const yNameGaps = [19, 19, 26, 26, 26, 26];
const panelLefts = [7.5, 532.5];
const panelTops = [7.5, 490.5, 972.5];
const panelW = 515;
const panelHs = [478, 477, 490];
const captionYs = [456, 938, 1420];

function fmtNum(v: number) {
  return String(Math.round(v * 1000) / 1000);
}

function buildOption() {
  const grids: any[] = [];
  const xAxes: any[] = [];
  const yAxes: any[] = [];
  const series: any[] = [];
  const graphics: any[] = [];
  const tickStyle = { show: true, inside: true, length: 4, lineStyle: { color: "#000", width: 0.8 } };
  const lineStyle = { show: true, lineStyle: { color: "#000", width: 0.8 } };
  const labelStyle = { color: "#000", fontSize: 9, fontFamily: SANS };

  for (let p = 0; p < 6; p++) {
    const col = p % 2;
    const row = Math.floor(p / 2);
    const left = gridLefts[col];
    const top = gridTops[row];
    const h = gridHs[row];
    grids.push({ left, top, width: gridW, height: h, show: false, containLabel: false });

    xAxes.push({
      gridIndex: p, type: "value", position: "bottom", min: xMin, max: xMax, interval: xInterval,
      axisLine: lineStyle, axisTick: tickStyle, splitLine: { show: false },
      axisLabel: { ...labelStyle, margin: 4 },
      name: "iteration step", nameLocation: "middle", nameGap: 15,
      nameTextStyle: { color: "#000", fontSize: 9, fontFamily: SANS },
    });
    xAxes.push({
      gridIndex: p, type: "value", position: "top", min: xMin, max: xMax, interval: xInterval,
      axisLine: lineStyle, axisTick: tickStyle, splitLine: { show: false }, axisLabel: { show: false },
    });
    yAxes.push({
      gridIndex: p, type: "value", position: "left", min: yMins[p], max: yMaxs[p], interval: yIntervals[p],
      axisLine: lineStyle, axisTick: tickStyle, splitLine: { show: false },
      axisLabel: { ...labelStyle, margin: 3, formatter: (v: number) => fmtNum(v) },
      name: "objective function value", nameLocation: "middle", nameGap: yNameGaps[p], nameRotate: 90,
      nameTextStyle: { color: "#000", fontSize: 9, fontFamily: SANS },
    });
    yAxes.push({
      gridIndex: p, type: "value", position: "right", min: yMins[p], max: yMaxs[p], interval: yIntervals[p],
      axisLine: lineStyle, axisTick: tickStyle, splitLine: { show: false }, axisLabel: { show: false },
    });

    runsByPanel[p].forEach((run) => {
      const pts: number[][] = [];
      for (let i = 0; i + 1 < run.length; i += 2) pts.push([run[i], run[i + 1]]);
      series.push({
        type: "line", xAxisIndex: p * 2, yAxisIndex: p * 2, data: pts,
        symbol: "none", showSymbol: false, silent: true, clip: true,
        lineStyle: { color: "#0000ff", width: 0.7, opacity: 0.68 },
      });
    });

    // title above plot
    graphics.push({
      type: "text", x: left + gridW / 2, y: top - 10, silent: true,
      style: {
        text: `FA progress on problem ${problems[p]}.dat`, fill: "#000",
        fontSize: 9, fontFamily: SANS, align: "center", verticalAlign: "middle",
        textAlign: "center", textVerticalAlign: "middle",
      },
    });
    // exponent label
    if (yExponents[p]) {
      graphics.push({
        type: "text", x: left, y: top - 7, silent: true,
        style: { text: "x 10", fill: "#000", fontSize: 9, fontFamily: SANS, align: "left", verticalAlign: "middle", textAlign: "left", textVerticalAlign: "middle" },
      });
      graphics.push({
        type: "text", x: left + 17.5, y: top - 10.5, silent: true,
        style: { text: String(yExponents[p]), fill: "#000", fontSize: 6, fontFamily: SANS, align: "left", verticalAlign: "middle", textAlign: "left", textVerticalAlign: "middle" },
      });
    }
    // panel frame
    graphics.push({
      type: "rect", silent: true,
      shape: { x: panelLefts[col], y: panelTops[row], width: panelW, height: panelHs[row] },
      style: { fill: "none", stroke: "#111", lineWidth: 1.3 },
    });
    // caption
    graphics.push({
      type: "text", silent: true,
      x: panelLefts[col] + panelW / 2 + 1, y: captionYs[row],
      style: {
        text: `{b|(${captionLetters[p]})}{n|Progress of ${problems[p]}}`,
        align: "center", verticalAlign: "middle", textAlign: "center", textVerticalAlign: "middle",
        fontSize: 32, fontFamily: SERIF, fill: "#000",
        rich: {
          b: { fontSize: 32, fontFamily: SERIF, fontWeight: "bold", fill: "#000", padding: [0, 16, 0, 0] },
          n: { fontSize: 32, fontFamily: SERIF, fill: "#000" },
        },
      },
    });
  }

  return {
    animation: false,
    backgroundColor: "#fff",
    grid: grids,
    xAxis: xAxes,
    yAxis: yAxes,
    series,
    graphic: graphics,
  };
}

export default function App() {
  const ref = useRef<HTMLDivElement>(null);
  useEffect(() => {
    if (!ref.current) return;
    const chart = echarts.init(ref.current, undefined, { renderer: "svg" });
    chart.setOption(buildOption() as any);
    return () => chart.dispose();
  }, []);
  return (
    <div
      ref={ref}
      style={{ position: "absolute", left: 0, top: 0, width: W, height: H, background: "#fff" }}
    />
  );
}
